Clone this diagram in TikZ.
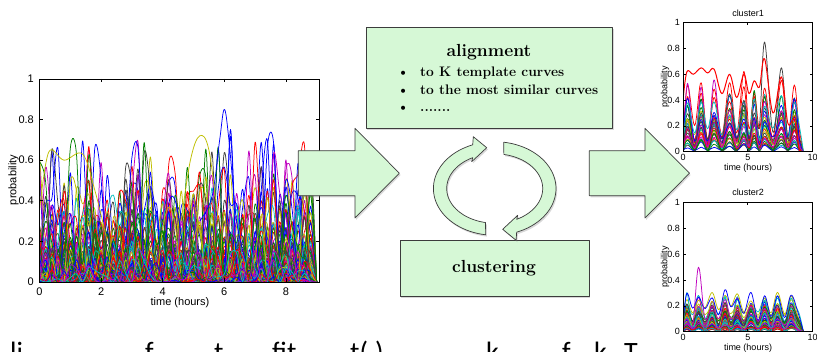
\documentclass[tikz,border=0pt]{standalone}
\usepackage{fontspec}
\newfontfamily\plotfont{Liberation Sans}
\newfontfamily\notefont{Carlito}
\usetikzlibrary{shadows}
\definecolor{boxgreen}{RGB}{214,248,214}
\definecolor{edgegray}{RGB}{60,60,60}
\definecolor{mc0}{rgb}{0,0,1}
\definecolor{mc1}{rgb}{0,0.5,0}
\definecolor{mc2}{rgb}{1,0,0}
\definecolor{mc3}{rgb}{0,0.75,0.75}
\definecolor{mc4}{rgb}{0.75,0,0.75}
\definecolor{mc5}{rgb}{0.75,0.75,0}
\definecolor{mc6}{rgb}{0.25,0.25,0.25}
\tikzset{
 gshape/.style={fill=boxgreen, draw=edgegray, line width=0.7pt, line join=round,
   drop shadow={shadow xshift=1.2pt, shadow yshift=-1.8pt, opacity=0.3}},
 gbox/.style={gshape, rectangle, inner sep=0pt},
 boxtitle/.style={font=\bfseries\fontsize{17.5}{20}\selectfont, inner sep=0pt},
 itemtext/.style={font=\bfseries\fontsize{13.8}{16}\selectfont, inner sep=0pt, anchor=base west},
 axisline/.style={line width=0.6pt, black},
 ticklab/.style={font=\plotfont\fontsize{11}{13}\selectfont, inner sep=0pt},
 smalllab/.style={font=\plotfont\fontsize{9}{10}\selectfont, inner sep=0pt},
 curve/.style={line width=0.75pt, line join=round},
 note/.style={font=\notefont\fontsize{28}{30}\selectfont, inner sep=0pt, anchor=base west},
}
\newcommand\clustercurves[4]{%
 \foreach \i in {1,...,#1}{%
   \pgfmathsetmacro\amp{#3}%
   \pgfmathsetmacro\bas{#4*\amp*rnd}%
   \pgfmathtruncatemacro\ci{mod(\i,7)}%
   \pgfmathsetmacro\vv{\bas*rnd}%
   \xdef\pts{(0,\vv)}%
   \foreach \pa/\pb in {#2}{%
     \pgfmathsetmacro\vp{\bas+(\amp-\bas)*(0.3+0.7*rnd)}%
     \pgfmathsetmacro\vt{\bas*(0.4+0.6*rnd)}%
     \xdef\pts{\pts (\pa,\vp) (\pb,\vt)}%
   }%
   \edef\cmd{\noexpand\draw[curve, color=mc\ci] plot[smooth, tension=0.6] coordinates {\pts (9.3,0)};}%
   \cmd
 }}
\newcommand\clusteraxes{%
  \draw[axisline] (0,0) rectangle (10,1);
  \foreach \t in {0,5,10}{\draw[axisline] (\t,0) -- ++(0pt,2.5pt) (\t,1) -- ++(0pt,-2.5pt);}
  \foreach \v in {0,0.2,0.4,0.6,0.8,1}{%
    \draw[axisline] (0,\v) -- ++(2.5pt,0pt) (10,\v) -- ++(-2.5pt,0pt);
    \node[smalllab, anchor=east] at ([xshift=-3pt]0,\v) {\v};}
  \foreach \t in {0,5,10}{\node[smalllab] at ([yshift=-5.5pt]\t,0) {\t};}
}
\begin{document}
\begin{tikzpicture}[x=1pt,y=-1pt]
\clip (0,0) rectangle (817,352);
\fill[white] (0,0) rectangle (817,352);

% ---------- left plot ----------
\begin{scope}[shift={(39.5,282)}, x=30.8pt, y=203pt]
  \begin{scope}
    \clip (0,0) rectangle (9.1,1);
    \pgfmathsetseed{11}
    \foreach \i in {1,...,130}{
      \pgfmathsetmacro\amp{0.12+0.7*pow(rnd,3)}
      \pgfmathtruncatemacro\ci{mod(\i,7)}
      \draw[curve, color=mc\ci] plot[smooth, domain=0:9, samples=46] (\x,{\amp*pow(rnd,3)*(\x<8.95)});
    }
    \draw[curve, mc0] plot[smooth, tension=0.6] coordinates {(5.2,0.3)(5.6,0.42)(5.85,0.7)(6.0,0.85)(6.15,0.7)(6.4,0.3)(6.7,0.1)};
    \draw[curve, mc5] plot[smooth, tension=0.6] coordinates {(0,0.35)(0.3,0.64)(0.8,0.6)(1.4,0.63)(1.8,0.45)(2.2,0.2)};
    \draw[curve, mc5] plot[smooth, tension=0.6] coordinates {(4.6,0.3)(4.9,0.6)(5.2,0.72)(5.5,0.65)(5.8,0.3)};
  \end{scope}
  \draw[axisline] (0,0) rectangle (9.1,1);
  \foreach \t in {0,2,4,6,8}{
    \draw[axisline] (\t,0) -- ++(0pt,3.5pt) (\t,1) -- ++(0pt,-3.5pt);
    \node[ticklab] at ([yshift=-9.5pt]\t,0) {\t};
  }
  \foreach \v in {0,0.2,0.4,0.6,0.8,1}{
    \draw[axisline] (0,\v) -- ++(3.5pt,0pt) (9.1,\v) -- ++(-3.5pt,0pt);
    \node[ticklab, anchor=east] at ([xshift=-5.5pt]0,\v) {\v};
  }
\end{scope}
\node[ticklab] (xlab) at (180,302.5) {time (hours)};
\node[ticklab, rotate=90] (ylab) at (13.5,180) {probability};

% ---------- cluster 1 ----------
\begin{scope}[shift={(683,151.7)}, x=12.95pt, y=129pt]
  \begin{scope}
    \clip (0,0) rectangle (10,1);
    \pgfmathsetseed{5}
    \clustercurves{32}{0.35/0.9,1.4/1.9,2.4/3.0,3.6/4.15,4.7/5.1,5.5/5.9,6.3/6.95,7.6/8.1,8.6/9.0}{0.06+0.6*pow(rnd,1.5)}{0.5}
    \draw[curve, mc6] plot[smooth, tension=0.6] coordinates {(0,0.05)(0.35,0.2)(0.9,0.05)(1.4,0.3)(1.9,0.1)(2.4,0.25)(3.0,0.1)(3.6,0.45)(4.15,0.1)(4.7,0.4)(5.1,0.1)(5.5,0.3)(5.9,0.2)(6.3,0.85)(6.95,0.15)(7.6,0.65)(8.1,0.1)(8.6,0.2)(9.0,0)(9.3,0)};
    \draw[curve, mc2, line width=1pt] plot[smooth, tension=0.6] coordinates {(0,0.4)(0.3,0.62)(0.8,0.6)(1.4,0.65)(1.9,0.61)(2.4,0.64)(3.0,0.45)(3.6,0.6)(4.15,0.42)(4.7,0.6)(5.1,0.45)(5.5,0.55)(5.9,0.5)(6.3,0.72)(6.95,0.3)(7.6,0.58)(8.1,0.22)(8.6,0.25)(9.0,0)(9.3,0)};
  \end{scope}
  \clusteraxes
\end{scope}
\node[smalllab] (c1t) at (748,13) {cluster1};
\node[smalllab] (c1x) at (748,168) {time (hours)};
\node[smalllab, rotate=90] (c1y) at (665,87) {probability};

% ---------- cluster 2 ----------
\begin{scope}[shift={(683,331.7)}, x=12.95pt, y=129pt]
  \begin{scope}
    \clip (0,0) rectangle (10,1);
    \pgfmathsetseed{9}
    \clustercurves{60}{0.3/0.75,1.2/1.7,2.25/2.75,3.25/3.7,4.2/4.7,5.25/5.8,6.3/6.8,7.3/7.85,8.35/8.9}{0.03+0.3*pow(rnd,1.5)}{0.7}
    \draw[curve, mc4] plot[smooth, tension=0.6] coordinates {(0,0.05)(0.3,0.1)(0.75,0.05)(1.2,0.5)(1.7,0.1)(2.25,0.2)(2.75,0.1)(3.25,0.25)(3.7,0.1)(4.2,0.15)(4.7,0.08)(5.25,0.2)(5.8,0.08)(6.3,0.18)(6.8,0.05)(7.3,0.1)(7.85,0.05)(8.35,0.1)(8.9,0)(9.3,0)};
  \end{scope}
  \clusteraxes
\end{scope}
\node[smalllab] (c2t) at (748,192) {cluster2};
\node[smalllab] (c2x) at (748,348) {time (hours)};
\node[smalllab, rotate=90] (c2y) at (665,267) {probability};

% ---------- boxes ----------
\node[gbox, minimum width=246.3pt, minimum height=101pt] (align) at (489.2,77.8) {};
\node[boxtitle] (alignt) at (489,51.7) {alignment};
\node[itemtext] (b1) at (397,76.5) {\textbullet};
\node[itemtext] (i1) at (420,76.5) {to K template curves};
\node[itemtext] (b2) at (397,94.5) {\textbullet};
\node[itemtext] (i2) at (420,94.5) {to the most similar curves};
\node[itemtext] (b3) at (397,112) {\textbullet};
\node[itemtext] (i3) at (420,112) {.......};

\node[gbox, minimum width=189pt, minimum height=56pt] (clust) at (494.5,268.7) {};
\node[boxtitle] (clustt) at (494,268) {clustering};

% ---------- cycle arrows ----------
\begin{scope}[shift={(494.7,188.5)}]
  \path[gshape] plot[domain=111:261.5, samples=40] ({61.3*cos(\x)},{-46.8*sin(\x)})
     -- plot[domain=259:117.3, samples=40] ({48*cos(\x)},{-34.7*sin(\x)})
     -- (-23,-26.8) -- (-8,-40.8) -- (-21.4,-51.8) -- cycle;
  \path[gshape] plot[domain=111:261.5, samples=40] ({-61.3*cos(\x)},{46.8*sin(\x)})
     -- plot[domain=259:117.3, samples=40] ({-48*cos(\x)},{34.7*sin(\x)})
     -- (23,26.8) -- (8,40.8) -- (21.4,51.8) -- cycle;
\end{scope}

% ---------- big arrows ----------
\path[gshape] (298.3,150.7) -- (355,150.7) -- (355,128.3) -- (399.3,173.2) -- (355,218) -- (355,195.7) -- (298.3,195.7) -- cycle;
\path[gshape] (589.3,150.7) -- (645,150.7) -- (645,128.3) -- (689.5,173.2) -- (645,218) -- (645,195.7) -- (589.3,195.7) -- cycle;

% ---------- clipped caption line ----------
\node[note] (n1) at (10,362) {li};
\node[note] (n2) at (145,362) {f};
\node[note] (n3) at (214,362) {t};
\node[note] (n4) at (272,362) {fit};
\node[note] (n5) at (350,362) {t(.)};
\node[note] (n6) at (486,362) {k};
\node[note] (n7) at (562,362) {f};
\node[note] (n8) at (594,362) {k};
\node[note] (n9) at (624,362) {T};
\end{tikzpicture}
\end{document}
